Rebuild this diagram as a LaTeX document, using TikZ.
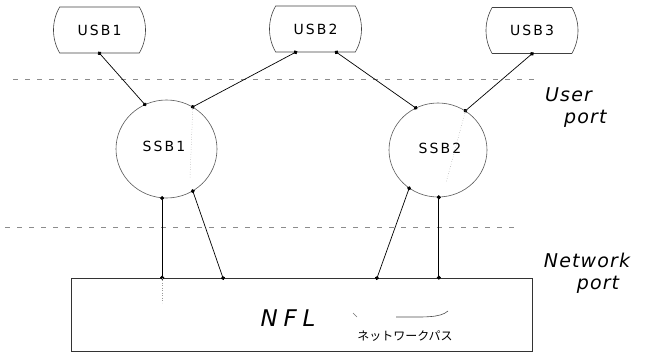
\documentclass[tikz,border=0pt]{standalone}
\usepackage{fontspec}
\usetikzlibrary{arrows.meta, shapes.geometric, shapes.misc}
\newfontfamily\handfont[LetterSpace=15]{DejaVu Sans}
\newfontfamily\bigfont[LetterSpace=25]{DejaVu Sans}
\newfontfamily\wordfont[LetterSpace=6]{DejaVu Sans}
\newfontfamily\jpfont{Noto Sans CJK JP}

\begin{document}
\begin{tikzpicture}[x=1pt, y=-1pt,
        usb/.style = {draw=black!75, line width=0.6pt, rounded rectangle, rounded rectangle arc length=60,
            minimum width=90pt, minimum height=46pt, inner sep=0pt, font=\handfont\fontsize{14}{16}\selectfont},
        ssb/.style = {draw=black!65, line width=0.6pt, ellipse, inner sep=0pt},
        tag/.style = {inner sep=0pt, font=\handfont\fontsize{14}{16}\selectfont},
        link/.style = {line width=0.7pt, arrows={Circle[length=4pt]-Circle[length=4pt]}, shorten <=-2pt, shorten >=-2pt},
        border/.style = {draw=black!45, line width=0.5pt, dash pattern=on 5pt off 7pt},
        hint/.style = {draw=black!40, line width=0.5pt, dotted},
        side/.style = {inner sep=0pt, font=\wordfont\itshape\fontsize{19}{22}\selectfont}]
    \useasboundingbox (0,0) rectangle (648,353);

    % user side
    \node[usb] (usb1) at (99.5,30) {USB1};
    \node[usb] (usb2) at (315.5,29) {USB2};
    \node[usb] (usb3) at (532,30.5) {USB3};

    % switching blocks
    \node[ssb, minimum width=101pt, minimum height=98pt] (ssb1) at (166.5,149) {};
    \node[ssb, minimum width=98pt, minimum height=94pt] (ssb2) at (438,150) {};
    \node[tag] (ssb1txt) at (164,146) {SSB1};
    \node[tag] (ssb2txt) at (440,148) {SSB2};

    % network
    \node[draw=black!80, line width=0.7pt, minimum width=461pt, minimum height=73pt, inner sep=0pt] (nfl) at (301.5,314.5) {};
    \node[inner sep=0pt, font=\bigfont\itshape\fontsize{23}{26}\selectfont] (nfltxt) at (288,318) {NFL};
    \node[inner sep=0pt, font=\jpfont\fontsize{12}{14}\selectfont] (path) at (405,336) {ネットワークパス};
    \coordinate (n2) at (223,278);
    \coordinate (n3) at (377,278);

    % port levels
    \draw[border] (13,79) -- (540,79);
    \draw[border] (5,227) -- (519,227);
    \node[side, anchor=west] (user) at (545,95) {User};
    \node[side, anchor=west] (userport) at (564,119) {port};
    \node[side] (net) at (587,260) {Network};
    \node[side] (netport) at (598,285) {port};

    \draw[link] (usb1.south) -- (ssb1.116);
    \draw[link] ([xshift=-20pt]usb2.south) -- (ssb1.58);
    \draw[link] ([xshift=21pt]usb2.south) -- (ssb2.118);
    \draw[link] (usb3.south) -- (ssb2.55);

    \draw[link] (ssb1.265) -- (ssb1.265 |- nfl.north);
    \draw[link] (ssb1.302) -- (n2);
    \draw[link] (ssb2.233) -- (n3);
    \draw[link] (ssb2.271) -- (ssb2.271 |- nfl.north);

    \draw[hint] (ssb1.58) -- (190,178);
    \draw[hint] (ssb2.55) -- (446,183);
    \draw[hint] (ssb1.265 |- nfl.north) -- +(0,25);
    \draw[black!55, line width=0.5pt] (353,313) -- (357,317);
    \draw[black!70, line width=0.6pt] (396,317) .. controls (425,317) and (440,318) .. (448,311);
\end{tikzpicture}
\end{document}
